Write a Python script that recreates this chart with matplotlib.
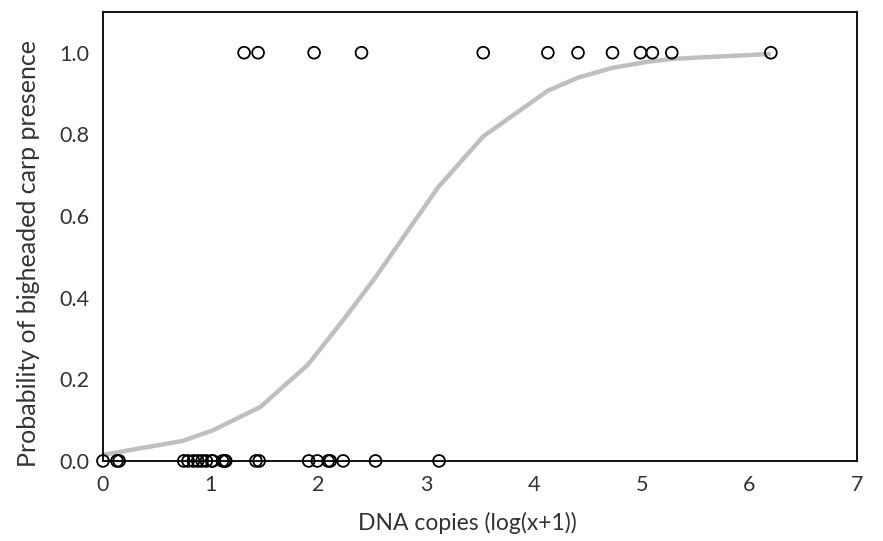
import matplotlib
matplotlib.use('Agg')
import matplotlib.pyplot as plt
from matplotlib.ticker import FormatStrFormatter

# Observed presence (y = 1) and absence (y = 0), DNA copies log(x+1)
present_x = [1.31, 1.44, 1.96, 2.40, 3.53, 4.13, 4.41, 4.73, 4.99, 5.10, 5.28, 6.20]
absent_x = [0.0, 0.13, 0.15, 0.75, 0.79, 0.84, 0.88, 0.92, 0.96, 1.01, 1.02,
            1.11, 1.13, 1.14, 1.42, 1.45, 1.91, 1.99, 2.09, 2.11, 2.23, 2.53, 3.12]

# Fitted probability curve
curve_x = [0.0, 0.74, 1.02, 1.46, 1.90, 2.23, 2.53, 3.11, 3.53, 4.13, 4.41, 4.73, 5.06, 5.29, 6.20]
curve_y = [0.015, 0.049, 0.075, 0.132, 0.235, 0.345, 0.45, 0.67, 0.795, 0.907, 0.939, 0.963, 0.978, 0.985, 0.997]

plt.rcParams['font.family'] = ['Lato', 'DejaVu Sans']

fig = plt.figure(figsize=(8.83, 5.41), dpi=100)
ax = fig.add_axes([0.1166, 0.148, 0.854, 0.830])

ax.plot(curve_x, curve_y, color='#bfbfbf', linewidth=3.2, zorder=1, solid_capstyle='butt')

ax.scatter(present_x, [1.0] * len(present_x), s=72, facecolors='none',
           edgecolors='black', linewidths=1.3, zorder=3, clip_on=False)
ax.scatter(absent_x, [0.0] * len(absent_x), s=72, facecolors='none',
           edgecolors='black', linewidths=1.3, zorder=3, clip_on=False)

ax.set_xlim(0, 7)
ax.set_ylim(0, 1.1)
ax.set_xticks(range(0, 8))
ax.set_yticks([0.0, 0.2, 0.4, 0.6, 0.8, 1.0])
ax.yaxis.set_major_formatter(FormatStrFormatter('%.1f'))
ax.tick_params(length=0, labelsize=15.5, colors='#333333')
ax.tick_params(axis='x', pad=10)
ax.tick_params(axis='y', pad=10)

for s in ax.spines.values():
    s.set_color('black')
    s.set_linewidth(1.3)

ax.set_xlabel('DNA copies (log(x+1))', fontsize=16.5, color='#333333')
ax.set_ylabel('Probability of bigheaded carp presence', fontsize=18, color='#333333')
ax.xaxis.set_label_coords(0.483, -0.113)
ax.yaxis.set_label_coords(-0.084, 0.463)

fig.savefig('out.png', dpi=100)
plt.close(fig)
